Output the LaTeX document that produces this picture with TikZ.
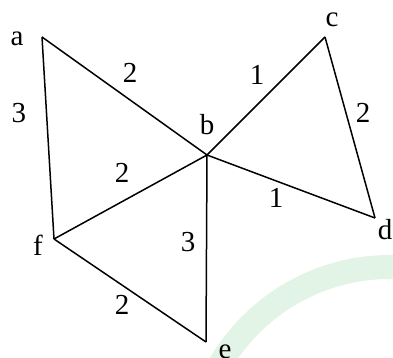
\documentclass[tikz,border=0pt]{standalone}
\usepackage{fontspec}
\setmainfont{Liberation Serif}
\begin{document}
\begin{tikzpicture}[x=1pt,y=1pt,
  edge/.style={line width=1.5pt, line join=miter},
  lbl/.style={inner sep=0pt, font=\fontsize{29}{31}\selectfont},
  wm/.style={line width=24pt, color={rgb,255:red,226;green,244;blue,229}}]
\useasboundingbox (0,0) rectangle (393,358);
\begin{scope}
  \clip (0,0) rectangle (393,358);
  \draw[wm] (390,-106) circle[radius=197];
\end{scope}
% vertices
\coordinate (a) at (42,321);
\coordinate (b) at (207,203);
\coordinate (c) at (325,321);
\coordinate (d) at (375,140);
\coordinate (e) at (206,16);
\coordinate (f) at (54,119);
% edges
\draw[edge] (a) -- (b);
\draw[edge] (a) -- (f);
\draw[edge] (b) -- (c);
\draw[edge] (c) -- (d);
\draw[edge] (b) -- (d);
\draw[edge] (b) -- (f);
\draw[edge] (b) -- (e);
\draw[edge] (f) -- (e);
% vertex labels
\node[lbl] (la) at (17,319) {a};
\node[lbl] (lb) at (207,233) {b};
\node[lbl] (lc) at (332,338) {c};
\node[lbl] (ld) at (385,128) {d};
\node[lbl] (le) at (225,6) {e};
\node[lbl] (lf) at (38,113) {f};
% weights
\node[lbl] (wab) at (130,285) {2};
\node[lbl] (waf) at (19,245) {3};
\node[lbl] (wbc) at (257,283) {1};
\node[lbl] (wcd) at (363,245) {2};
\node[lbl] (wbd) at (276,160) {1};
\node[lbl] (wbf) at (122,185) {2};
\node[lbl] (wbe) at (188,116) {3};
\node[lbl] (wfe) at (122,53) {2};
\end{tikzpicture}
\end{document}
